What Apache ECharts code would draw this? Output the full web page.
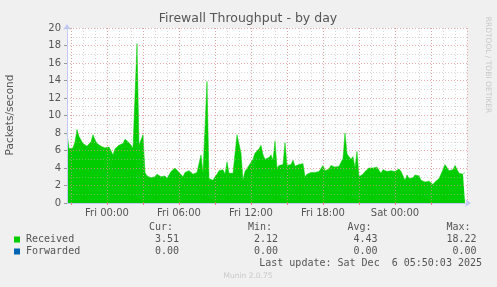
<!DOCTYPE html>
<html><head><meta charset="utf-8">
<script src="https://cdn.jsdelivr.net/npm/echarts@6/dist/echarts.min.js"></script>
<style>html,body{margin:0;padding:0;background:#f0f0f0}#c{width:497px;height:287px}</style>
</head><body><div id="c"></div>
<script>
// Time in hours relative to Fri 00:00; first sample Thu 20:40, 10-minute samples
const startHour = -10 / 3;
const stepHours = 1 / 6;
const axisMinHour = -10 / 3;
const axisMaxHour = 30;

// Received packets/second
const received = [
  8.0, 6.2, 6.1, 6.3, 7.0, 8.4, 7.6, 7.2, 6.8, 6.7,
  6.5, 6.3, 7.0, 7.8, 7.2, 6.8, 6.6, 6.5, 6.6, 6.3,
  6.1, 6.4, 6.2, 5.5, 6.2, 6.3, 6.6, 6.8, 6.8, 7.3,
  7.2, 6.9, 6.7, 6.3, 6.2, 18.22, 6.6, 6.8, 7.8, 3.5,
  3.1, 3.0, 2.9, 3.0, 3.0, 3.3, 3.3, 3.0, 3.0, 3.1,
  2.8, 3.2, 3.6, 3.7, 4.0, 3.9, 3.5, 3.3, 3.0, 3.5,
  3.6, 3.7, 3.8, 3.3, 3.2, 3.5, 3.6, 5.5, 3.4, 3.6,
  13.9, 2.8, 2.7, 2.6, 3.0, 3.3, 3.7, 3.7, 3.8, 3.3,
  4.7, 3.4, 3.3, 3.4, 3.6, 7.8, 8.0, 5.7, 2.6, 3.6,
  3.7, 4.3, 4.4, 5.0, 5.7, 5.8, 6.2, 6.6, 5.5, 5.0,
  4.9, 5.2, 5.5, 4.9, 7.1, 4.0, 4.3, 4.3, 4.4, 6.9,
  4.3, 4.2, 4.4, 4.9, 4.2, 4.1, 4.4, 4.5, 4.5, 3.0,
  3.3, 3.4, 3.5, 3.4, 3.5, 3.6, 3.6, 3.5, 4.3, 3.7,
  3.8, 3.9, 4.3, 4.4, 4.1, 4.1, 4.2, 4.3, 5.1, 8.0,
  5.6, 5.3, 5.0, 5.3, 4.0, 5.9, 3.0, 3.2, 3.3, 3.6,
  3.6, 4.0, 4.2, 4.0, 4.0, 4.1, 3.9, 3.4, 3.8, 3.8,
  3.6, 3.6, 3.7, 3.5, 3.6, 3.8, 3.9, 3.6, 3.5, 2.6,
  3.2, 2.8, 2.8, 2.9, 3.2, 3.3, 3.1, 2.6, 2.6, 2.4,
  2.4, 2.5, 2.3, 2.12, 2.4, 2.5, 2.8, 3.0, 3.8, 4.4,
  4.3, 3.7, 3.5, 3.8, 4.3, 4.4, 3.4, 3.2, 3.3, 3.51
];

// Legend statistics: Cur, Min, Avg, Max
const statHeaders = ['Cur:', 'Min:', 'Avg:', 'Max:'];
const seriesNames = ['Received', 'Forwarded'];
const receivedStats = ['3.51', '2.12', '4.43', '18.22'];
const forwardedStats = ['0.00', '0.00', '0.00', '0.00'];

// Axis ticks
const xLabelHours = [0, 6, 12, 18, 24];
const xLabels = ['Fri 00:00', 'Fri 06:00', 'Fri 12:00', 'Fri 18:00', 'Sat 00:00'];
const xMajorHours = [-3, 0, 3, 6, 9, 12, 15, 18, 21, 24, 27, 30];
const xMinorHours = [-3, -2, -1, 0, 1, 2, 3, 4, 5, 6, 7, 8, 9, 10, 11, 12, 13, 14, 15, 16, 17, 18, 19, 20, 21, 22, 23, 24, 25, 26, 27, 28, 29];
const yMin = 0, yMax = 20, yStep = 2;

const titleText = 'Firewall Throughput - by day';
const yAxisTitle = 'Packets/second';
const lastUpdate = 'Last update: Sat Dec  6 05:50:03 2025';
const footer = 'Munin 2.0.75';
const sideText = 'RRDTOOL / TOBI OETIKER';

const data = received.map((v, i) => [startHour + i * stepHours, v]);

const colRecv = '#00cc00', colFwd = '#0066b3';
const axisCol = '#c4c8f4';
const majorCol = 'rgba(225,140,140,0.7)';
const minorCol = 'rgba(175,175,175,0.5)';
const mono = '10px "DejaVu Sans Mono", monospace';
const textCol = '#555';

const chart = echarts.init(document.getElementById('c'), null, {renderer: 'canvas'});

const colRight = [179, 278, 377.5, 476.5];
const headRight = [173, 272, 371.5, 470.5];
const graphics = [];
statHeaders.forEach((h, k) => graphics.push({type: 'text', x: headRight[k], y: 227.5,
  style: {text: h, font: mono, fill: textCol, align: 'right', verticalAlign: 'middle'}}));
[[seriesNames[0], colRecv, receivedStats, 239.5], [seriesNames[1], colFwd, forwardedStats, 251.5]].forEach(([n, c, st, y]) => {
  graphics.push({type: 'rect', shape: {x: 14, y: y - 3, width: 6, height: 6}, style: {fill: c}});
  graphics.push({type: 'text', x: 26, y: y, style: {text: n, font: mono, fill: textCol, align: 'left', verticalAlign: 'middle'}});
  st.forEach((s, k) => graphics.push({type: 'text', x: colRight[k], y: y,
    style: {text: s, font: mono, fill: textCol, align: 'right', verticalAlign: 'middle'}}));
});
graphics.push({type: 'text', x: 482, y: 263.5, style: {text: lastUpdate, font: mono, fill: textCol, align: 'right', verticalAlign: 'middle'}});
graphics.push({type: 'text', x: 248, y: 276.5, style: {text: footer, font: '7.5px "DejaVu Sans", sans-serif', fill: '#c8c8c8', align: 'center', verticalAlign: 'middle'}});
graphics.push({type: 'text', x: 248, y: 18.5, style: {text: titleText, font: '12.5px "DejaVu Sans", sans-serif', fill: '#555', align: 'center', verticalAlign: 'middle'}});
graphics.push({type: 'text', x: 10, y: 115, rotation: Math.PI / 2, style: {text: yAxisTitle, font: '10.5px "DejaVu Sans", sans-serif', fill: '#555', align: 'center', verticalAlign: 'middle'}});
graphics.push({type: 'text', x: 488, y: 65, rotation: -Math.PI / 2, style: {text: sideText, font: '7.5px "DejaVu Sans", sans-serif', fill: '#c8c8c8', align: 'center', verticalAlign: 'middle'}});

chart.setOption({
  animation: false,
  backgroundColor: '#f0f0f0',
  grid: {left: 67, right: 30, top: 28, bottom: 84, show: true, backgroundColor: '#ffffff', borderWidth: 0},
  xAxis: [{
    type: 'value', min: axisMinHour, max: axisMaxHour, z: 3,
    axisLine: {show: true, onZero: false, lineStyle: {color: axisCol, width: 1}, symbol: ['none', 'arrow'], symbolSize: [6, 6], symbolOffset: [0, 4]},
    axisTick: {show: true, customValues: xMajorHours, length: 2, lineStyle: {color: '#e08080'}},
    axisLabel: {customValues: xLabelHours, margin: 5, color: textCol, fontSize: 10, fontFamily: '"DejaVu Sans", sans-serif',
      formatter: v => { const k = xLabelHours.indexOf(Math.round(v)); return k >= 0 ? xLabels[k] : ''; }},
    splitLine: {show: true, lineStyle: {color: majorCol, type: [1, 2], width: 1}}
  }, {
    type: 'value', min: axisMinHour, max: axisMaxHour, position: 'bottom', z: 1,
    axisLine: {show: false, onZero: false}, axisLabel: {show: false},
    axisTick: {show: false, customValues: xMinorHours},
    splitLine: {show: true, lineStyle: {color: minorCol, type: [1, 2], width: 1}}
  }],
  yAxis: {
    type: 'value', min: yMin, max: yMax, interval: yStep, z: 3,
    axisLine: {show: true, onZero: false, lineStyle: {color: axisCol, width: 1}, symbol: ['none', 'arrow'], symbolSize: [6, 6], symbolOffset: [0, 4]},
    axisTick: {show: true, length: 3, lineStyle: {color: '#999'}},
    axisLabel: {margin: 6, color: textCol, fontSize: 10, fontFamily: '"DejaVu Sans", sans-serif'},
    splitLine: {show: true, lineStyle: {color: majorCol, type: [1, 2], width: 1}},
    minorTick: {show: false, splitNumber: 2},
    minorSplitLine: {show: true, lineStyle: {color: minorCol, type: [1, 2], width: 1}}
  },
  series: [{
    name: seriesNames[0], type: 'line', data: data, xAxisIndex: 0, showSymbol: false, symbol: 'none',
    lineStyle: {width: 0.5, color: colRecv}, areaStyle: {color: colRecv, opacity: 1}, z: 2
  }],
  graphic: graphics
});
</script></body></html>
